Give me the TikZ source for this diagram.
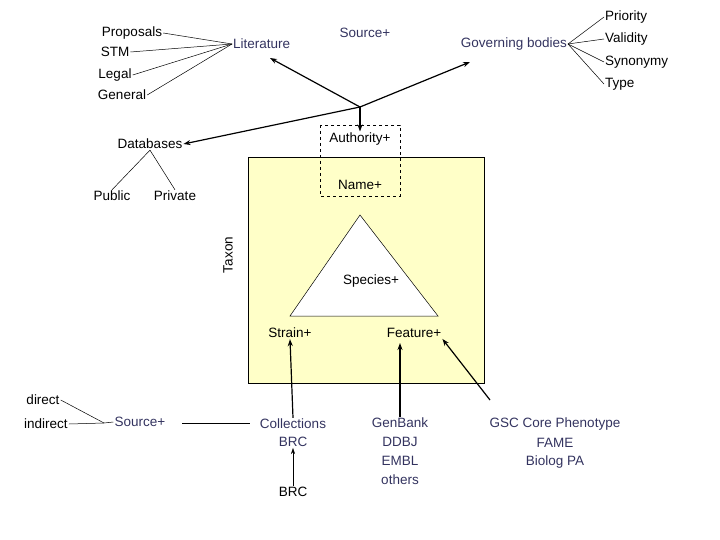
\documentclass[tikz,border=0pt]{standalone}
\usepackage{fontspec}
\setmainfont{Liberation Sans}
\usetikzlibrary{arrows.meta}
\definecolor{nv}{HTML}{33335F}
\definecolor{yel}{HTML}{FFFFC8}
\begin{document}
\begin{tikzpicture}[x=1pt,y=-1pt,
  t/.style={inner sep=1pt,font=\fontsize{13.5}{15}\selectfont},
  b/.style={t,text=nv},
  thin/.style={line width=0.5pt},
  ar/.style={line width=1.2pt,-{Stealth[length=7pt,width=5pt]}}]
\useasboundingbox (0,0) rectangle (720,540);
\fill[yel,draw=black,line width=0.6pt] (248,157) rectangle (484,383);
\node[t,rotate=90] (taxon) at (228,255) {Taxon};
\draw[thin,fill=white] (360,215) -- (290,316) -- (438,316) -- cycle;
\node[t] (sp) at (371,281) {Species+};
\draw[dashed,thin] (320,125) rectangle (400,196);
\node[t] (auth) at (360,139) {Authority+};
\node[t] (name) at (360,185) {Name+};
\node[t] (strain) at (290,333) {Strain+};
\node[t] (feat) at (414,333) {Feature+};
% top
\node[t] (prop) at (132,33) {Proposals};
\node[t] (stm) at (115,52) {STM};
\node[t] (legal) at (115,75) {Legal};
\node[t] (gen) at (122,95) {General};
\node[b,anchor=west] (lit) at (232,44) {Literature};
\node[b] (src) at (365,33) {Source+};
\node[b,anchor=east] (gov) at (568,44) {Governing bodies};
\node[t,anchor=west] (pri) at (604,17) {Priority};
\node[t,anchor=west] (val) at (604,39) {Validity};
\node[t,anchor=west] (syn) at (604,62) {Synonymy};
\node[t,anchor=west] (typ) at (604,84) {Type};
\foreach \n in {prop,stm,legal,gen}
  \draw[thin] (\n.east) -- (lit.west);
\foreach \n in {pri,val,syn,typ}
  \draw[thin] (gov.east) -- (\n.west);
\coordinate (j) at (360,107);
\node[t] (db) at (150,144) {Databases};
\node[t] (pub) at (112,196) {Public};
\node[t] (pri2) at (175,196) {Private};
\draw[thin] (db.south) -- (pub.north);
\draw[thin] (db.south) -- (pri2.north);
\draw[ar] (j) -- (270,58);
\draw[ar] (j) -- (470,62);
\draw[ar] (j) -- (db.east);
\draw[ar] (j) -- (auth.north);
% bottom
\node[t] (dir) at (43,400) {direct};
\node[t] (ind) at (46,424) {indirect};
\node[b] (src2) at (140,422) {Source+};
\coordinate (k) at (104,423);
\draw[thin] (dir.east) -- (k);
\draw[thin] (ind.east) -- (k) -- (src2.west);
\node[b] (col) at (293,424) {Collections};
\node[b] (brc) at (293,442) {BRC};
\draw[thin] (182,423) -- (250,423);
\node[t] (brc2) at (293,492) {BRC};
\draw[thin,-{Stealth[length=6pt,width=4pt]}] (brc2.north) -- (brc.south);
\node[b] (gb) at (400,423) {GenBank};
\node[b] at (400,442) {DDBJ};
\node[b] at (400,461) {EMBL};
\node[b] at (400,480) {others};
\node[b] (gsc) at (555,424) {GSC Core Phenotype};
\node[b] at (555,443) {FAME};
\node[b] at (555,462) {Biolog PA};
\draw[ar] (col.north) -- (strain.south);
\draw[ar] (gb.north) -- (400,343);
\draw[ar] (490,400) -- (feat.south east);
\end{tikzpicture}
\end{document}
